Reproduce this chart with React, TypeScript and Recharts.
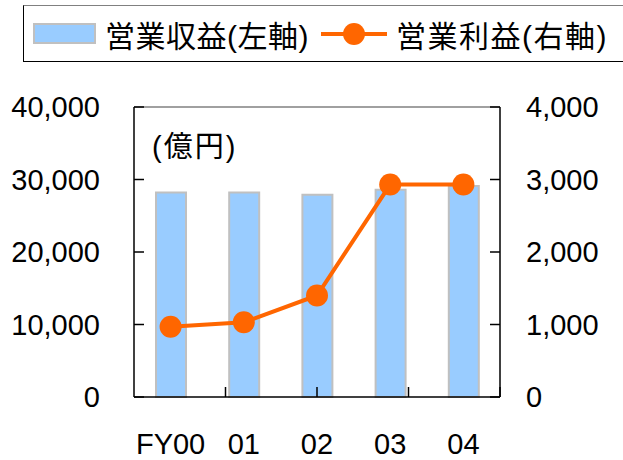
import { Bar, ComposedChart, Line, ReferenceLine, XAxis, YAxis } from "recharts";

const years = ["FY00", "01", "02", "03", "04"];
const revenue = [28200, 28200, 27900, 28600, 29100];
const operatingIncome = [970, 1030, 1400, 2930, 2930];
const leftTicks = [0, 10000, 20000, 30000, 40000];
const rightTicks = [0, 1000, 2000, 3000, 4000];
const boundaryTicks = [1, 2, 3, 4];
const revenueName = "営業収益(左軸)";
const incomeName = "営業利益(右軸)";
const unitLabel = "(億円)";

const data = years.map((year, i) => ({
  year,
  revenue: revenue[i],
  income: operatingIncome[i],
}));

const FONT = "'Liberation Sans', Arial, 'Noto Sans CJK JP', sans-serif";
const BAR_FILL = "#99CCFF";
const BAR_STROKE = "#C0C0C0";
const LINE_COLOR = "#FF6600";
const TICK_LEN = 10;
const LEFT_GAP = 34;
const RIGHT_GAP = 26;

const fmt = (v: number) => v.toLocaleString("en-US");

// tick label plus a short inward tick mark drawn from the axis line
function LeftTick({ x, y, payload }: any) {
  const ax = x + LEFT_GAP;
  return (
    <g>
      <line x1={ax} x2={ax + TICK_LEN} y1={y} y2={y} stroke="#000" strokeWidth={1.5} />
      <text x={x} y={y} dy="0.355em" textAnchor="end" fontSize={29} fill="#000">
        {fmt(payload.value)}
      </text>
    </g>
  );
}

function RightTick({ x, y, payload }: any) {
  const ax = x - RIGHT_GAP;
  return (
    <g>
      <line x1={ax} x2={ax - TICK_LEN} y1={y} y2={y} stroke="#000" strokeWidth={1.5} />
      <text x={x} y={y} dy="0.355em" textAnchor="start" fontSize={29} fill="#000">
        {fmt(payload.value)}
      </text>
    </g>
  );
}

function BoundaryTick({ x, y }: any) {
  return <line x1={x} x2={x} y1={y} y2={y - TICK_LEN} stroke="#000" strokeWidth={1.5} />;
}

function ChartLegend() {
  return (
    <div
      style={{
        position: "absolute",
        left: 23,
        top: 5,
        width: 620,
        height: 55,
        borderTop: "1px solid #808080",
        borderLeft: "1px solid #000",
        borderBottom: "1px solid #000",
        display: "flex",
        alignItems: "center",
        fontFamily: FONT,
        fontSize: 30,
        color: "#000",
        whiteSpace: "nowrap",
      }}
    >
      <span
        style={{
          marginLeft: 9,
          width: 59,
          height: 17,
          background: BAR_FILL,
          border: `2px solid ${BAR_STROKE}`,
          display: "inline-block",
        }}
      />
      <span style={{ marginLeft: 9, letterSpacing: 0.5 }}>{revenueName}</span>
      <svg width={66} height={24} style={{ marginLeft: 12 }}>
        <line x1={0} y1={12} x2={66} y2={12} stroke={LINE_COLOR} strokeWidth={4} />
        <circle cx={33} cy={12} r={11} fill={LINE_COLOR} />
      </svg>
      <span style={{ marginLeft: 9, letterSpacing: 1.5 }}>{incomeName}</span>
    </div>
  );
}

export default function App() {
  return (
    <div
      style={{
        position: "absolute",
        left: 0,
        top: 0,
        width: 623,
        height: 460,
        overflow: "hidden",
        background: "#fff",
      }}
    >
      <ComposedChart
        width={623}
        height={460}
        data={data}
        margin={{ top: 107, right: 0, bottom: 0, left: 0 }}
        style={{ fontFamily: FONT }}
      >
        <XAxis
          xAxisId="b"
          dataKey="year"
          height={62}
          tickSize={0}
          tickMargin={35}
          axisLine={false}
          tickLine={false}
          tick={{ fill: "#000", fontSize: 29 }}
        />
        <XAxis
          xAxisId="a"
          type="number"
          domain={[0, 5]}
          allowDataOverflow
          ticks={boundaryTicks}
          interval={0}
          height={1}
          tickSize={0}
          tickMargin={0}
          tick={<BoundaryTick />}
          tickLine={false}
          axisLine={{ stroke: "#000", strokeWidth: 1.5 }}
        />
        <YAxis
          yAxisId="l"
          orientation="left"
          width={134}
          domain={[0, 40000]}
          ticks={leftTicks}
          interval={0}
          tickSize={0}
          tickMargin={LEFT_GAP}
          tick={<LeftTick />}
          tickLine={false}
          axisLine={{ stroke: "#000", strokeWidth: 1.5 }}
        />
        <YAxis
          yAxisId="r"
          orientation="right"
          width={123}
          domain={[0, 4000]}
          ticks={rightTicks}
          interval={0}
          tickSize={0}
          tickMargin={RIGHT_GAP}
          tick={<RightTick />}
          tickLine={false}
          axisLine={{ stroke: "#000", strokeWidth: 1.5 }}
        />
        <ReferenceLine xAxisId="b" yAxisId="l" y={40000} stroke="#808080" strokeWidth={1.5} />
        <Bar
          xAxisId="b"
          yAxisId="l"
          dataKey="revenue"
          name={revenueName}
          barSize={30}
          fill={BAR_FILL}
          stroke={BAR_STROKE}
          strokeWidth={2}
          isAnimationActive={false}
        />
        <Line
          xAxisId="b"
          yAxisId="r"
          type="linear"
          dataKey="income"
          name={incomeName}
          stroke={LINE_COLOR}
          strokeWidth={4}
          dot={{ r: 11, fill: LINE_COLOR, stroke: "none" }}
          activeDot={false}
          isAnimationActive={false}
        />
      </ComposedChart>
      <div
        style={{
          position: "absolute",
          left: 152,
          top: 123,
          fontFamily: FONT,
          fontSize: 29,
          letterSpacing: 2,
          color: "#000",
        }}
      >
        {unitLabel}
      </div>
      <ChartLegend />
    </div>
  );
}
